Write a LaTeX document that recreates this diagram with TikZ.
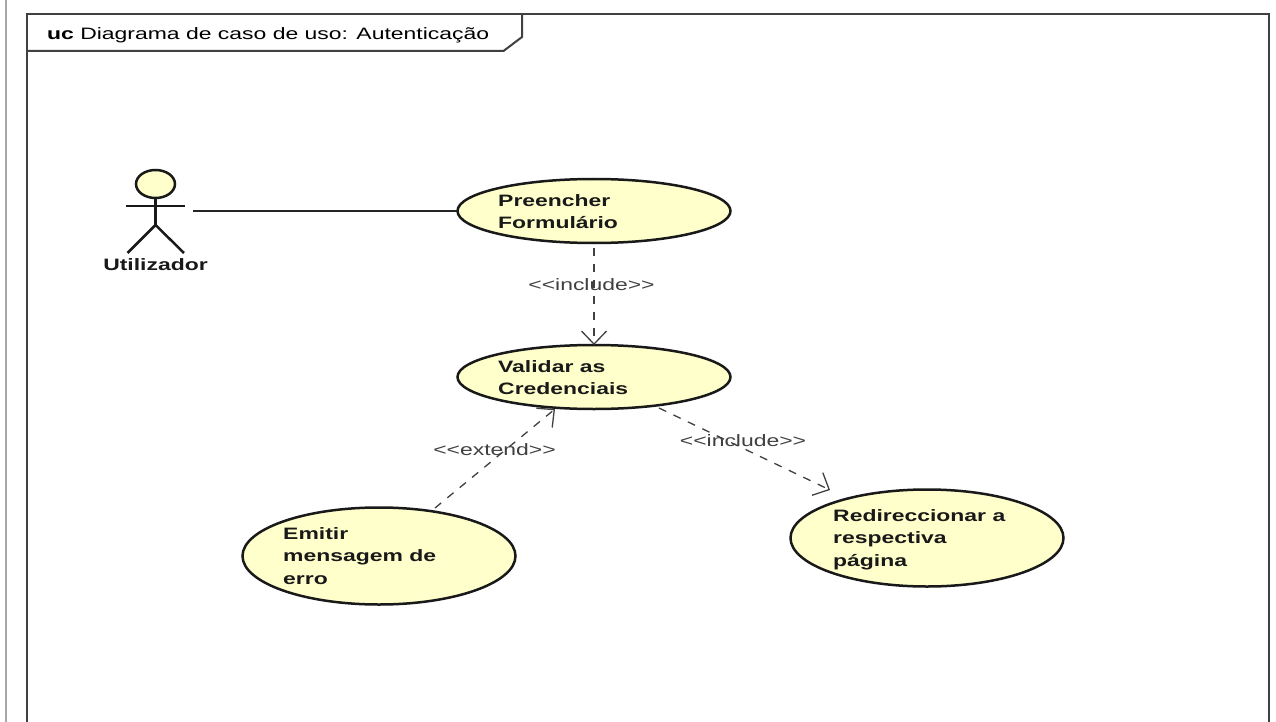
\documentclass[tikz,border=0pt]{standalone}
\usepackage{fontspec}
\setmainfont[FakeStretch=1.39]{Liberation Sans}
\usetikzlibrary{arrows.meta,shapes.geometric}
\definecolor{ucfill}{HTML}{FFFFCC}
\definecolor{edgegray}{HTML}{404040}
\tikzset{
  usecase/.style={ellipse,draw=black!90,line width=2.5pt,fill=ucfill,inner sep=0pt,outer sep=0pt},
  uctext/.style={font=\fontsize{16.5}{22.5}\selectfont\bfseries,text=black!90,align=left,anchor=north west,inner sep=0pt},
  steo/.style={font=\fontsize{16.5}{18}\selectfont,text=edgegray,inner sep=0pt},
  dep/.style={draw=edgegray,line width=1.3pt,dash pattern=on 8pt off 8pt,-{Straight Barb[length=13pt,width=25pt,line width=1.3pt]}},
  assoc/.style={draw=black!85,line width=1.3pt},
  framel/.style={draw=edgegray,line width=2pt},
  actorl/.style={draw=black!90,line width=2.5pt}
}
\begin{document}
\begin{tikzpicture}[x=1pt,y=-1pt]
\useasboundingbox (0,0) rectangle (1276,722);
\fill[white] (0,0) rectangle (1276,722);
\draw[draw=gray!70,line width=2pt] (6,0) -- (6,722);
\draw[framel] (27,722) -- (27,14.5) -- (1269,14.5) -- (1269,722);
\draw[framel] (27,51) -- (503.5,51) -- (522,37) -- (522,14.5);
\node[anchor=west,inner sep=0pt,font=\fontsize{16.5}{18}\selectfont] (title) at (47,35) {\textbf{uc} Diagrama de caso de uso: Autenticação};

% actor
\node[ellipse,draw=black!90,line width=2.5pt,fill=ucfill,minimum width=39pt,minimum height=28pt,inner sep=0pt,outer sep=0pt] (head) at (155.5,184) {};
\coordinate (hip) at (155.5,225);
\draw[actorl] (head.south) -- (hip);
\draw[actorl] (126,206) -- (185,206);
\draw[actorl] (127.5,253) -- (hip) -- (184,253);
\node[inner sep=0pt,font=\fontsize{16.5}{18}\selectfont\bfseries,text=black!90] (actor) at (155.5,265) {Utilizador};
\coordinate (actorend) at (193,211);

% use cases
\node[usecase,minimum width=273pt,minimum height=64pt] (pf) at (594,211) {};
\node[usecase,minimum width=273pt,minimum height=64pt] (vc) at (594,377) {};
\node[usecase,minimum width=273pt,minimum height=97pt] (em) at (379,556) {};
\node[usecase,minimum width=273pt,minimum height=97pt] (rp) at (927,538) {};
\node[uctext] (pft) at (498,194) {Preencher\\Formulário};
\node[uctext] (vct) at (498,360) {Validar as\\Credenciais};
\node[uctext] (emt) at (283,527) {Emitir\\mensagem de\\erro};
\node[uctext] (rpt) at (833,509) {Redireccionar a\\respectiva\\página};

% connectors
\coordinate (pfs) at (594,248);
\coordinate (e1s) at (435,508);
\coordinate (e1t) at (555,409);
\coordinate (e2s) at (659,408);
\coordinate (e2t) at (830,490);
\draw[assoc] (actorend) -- (pf.west);
\draw[dep] (pfs) -- (vc.north);
\draw[dep] (e1s) -- (e1t);
\draw[dep] (e2s) -- (e2t);

% labels
\node[steo] (l1) at (591.5,285) {<{}<include>{}>};
\node[steo] (l2) at (494.5,449.5) {<{}<extend>{}>};
\node[steo] (l3) at (743,441) {<{}<include>{}>};
\end{tikzpicture}
\end{document}
